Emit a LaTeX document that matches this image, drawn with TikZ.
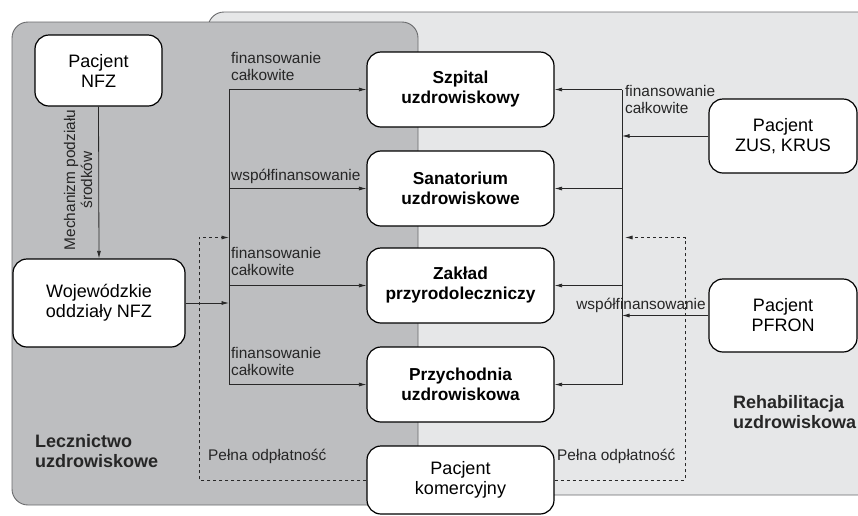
\documentclass[tikz,border=0pt]{standalone}
\usepackage{fontspec}
\setmainfont{Liberation Sans}
\usetikzlibrary{arrows.meta}
\definecolor{darkreg}{RGB}{189,190,192}
\definecolor{lightreg}{RGB}{230,231,232}
\definecolor{regborder}{RGB}{105,106,108}
\definecolor{lncol}{RGB}{40,40,40}
\begin{document}
\begin{tikzpicture}[x=1pt,y=-1pt,
  box/.style={draw=black, fill=white, rounded corners=14pt, line width=1.2pt, align=center,
    font=\fontsize{18}{20}\selectfont, inner sep=0pt},
  bbox/.style={box, font=\fontsize{17.3}{20}\selectfont\bfseries},
  lbl/.style={font=\fontsize{15.4}{17}\selectfont, align=left, inner sep=0pt, text=black!85},
  reglbl/.style={font=\fontsize{18}{20}\selectfont\bfseries, align=left, inner sep=0pt, text=black!85},
  ln/.style={draw=lncol, line width=0.8pt},
  arr/.style={ln, -{Latex[length=7.5pt,width=4pt]}},
  dsh/.style={arr, dash pattern=on 3pt off 3pt}]
\useasboundingbox (0,0) rectangle (858,515);
% regions
\filldraw[fill=lightreg, draw=regborder, line width=0.9pt, rounded corners=16pt] (208,12) rectangle (880,495);
\filldraw[fill=darkreg, draw=regborder, line width=0.9pt, rounded corners=16pt] (12,22) rectangle (418,505);
% boxes
\node[box, minimum width=127pt, minimum height=71pt] (nfz) at (98.5,70.5) {Pacjent\\NFZ};
\node[box, minimum width=172pt, minimum height=88pt] (woj) at (99,303) {Wojewódzkie\\oddziały NFZ};
\node[bbox, minimum width=187pt, minimum height=75pt] (szp) at (460.5,89.5) {Szpital\\uzdrowiskowy};
\node[bbox, minimum width=187pt, minimum height=75pt] (san) at (460.5,188.5) {Sanatorium\\uzdrowiskowe};
\node[bbox, minimum width=187pt, minimum height=75pt] (zak) at (460.5,285.5) {Zakład\\przyrodoleczniczy};
\node[bbox, minimum width=187pt, minimum height=75pt] (prz) at (460.5,384.5) {Przychodnia\\uzdrowiskowa};
\node[box, minimum width=187pt, minimum height=68pt] (kom) at (460.5,480) {Pacjent\\komercyjny};
\node[box, minimum width=148pt, minimum height=74pt] (zus) at (783,136) {Pacjent\\ZUS, KRUS};
\node[box, minimum width=148pt, minimum height=73pt] (pfr) at (783,315.5) {Pacjent\\PFRON};
% region labels
\node[reglbl, anchor=west] (lecz) at (35,451) {Lecznictwo\\uzdrowiskowe};
\node[reglbl, anchor=west] (rehab) at (733,412) {Rehabilitacja\\uzdrowiskowa};
% left connectors
\draw[arr] (nfz.south) -- (woj.north);
\node[lbl, align=center, rotate=90] (mech) at (78,180) {Mechanizm podziału\\środków};
\coordinate (lt) at (229,89.5);
\coordinate (lb) at (229,384.5);
\draw[ln] (lt) -- (lb);
\draw[arr] (lt) -- (szp.west);
\draw[arr] (lt |- san.west) -- (san.west);
\draw[arr] (lt |- zak.west) -- (zak.west);
\draw[arr] (lb) -- (prz.west);
\draw[arr] (woj.east) -- (lt |- woj.east);
\node[lbl, anchor=west] (l1) at (231,66) {finansowanie\\całkowite};
\node[lbl, anchor=base west] (l2) at (231,180) {współfinansowanie};
\node[lbl, anchor=west] (l3) at (231,261) {finansowanie\\całkowite};
\node[lbl, anchor=west] (l4) at (231,361) {finansowanie\\całkowite};
% right connectors
\coordinate (rt) at (622,89.5);
\coordinate (rb) at (622,384.5);
\draw[ln] (rt) -- (rb);
\draw[arr] (rt) -- (szp.east);
\draw[arr] (rt |- san.east) -- (san.east);
\draw[arr] (rt |- zak.east) -- (zak.east);
\draw[arr] (rb) -- (prz.east);
\draw[arr] (zus.west) -- (rt |- zus.west);
\draw[arr] (pfr.west) -- (rt |- pfr.west);
\node[lbl, anchor=west] (r1) at (625,99) {finansowanie\\całkowite};
\node[lbl, anchor=base] (r2) at (641,309) {współfinansowanie};
% dashed
\coordinate (dl) at (199,237.5);
\coordinate (dr) at (685,237.5);
\draw[dsh] (kom.west) -| (dl) -- (lt |- dl);
\draw[dsh] (kom.east) -| (dr) -- ([xshift=3pt]rt |- dr);
\node[lbl, anchor=base west] (p1) at (208,460) {Pełna odpłatność};
\node[lbl, anchor=base west] (p2) at (557,460) {Pełna odpłatność};
\end{tikzpicture}
\end{document}
